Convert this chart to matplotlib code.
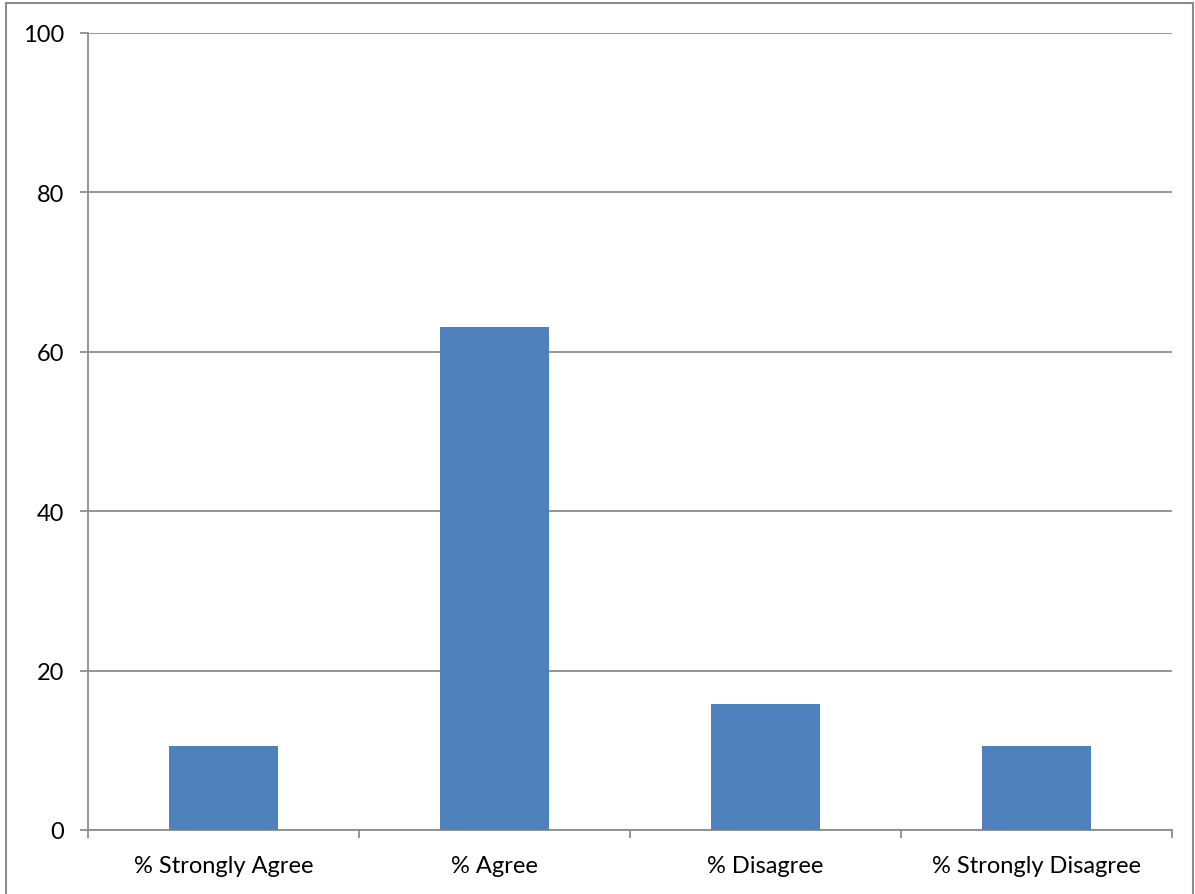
import matplotlib
matplotlib.use("Agg")
import matplotlib.pyplot as plt
from matplotlib.patches import Rectangle
import numpy as np

categories = ["% Strongly Agree", "% Agree", "% Disagree", "% Strongly Disagree"]
values = [10.53, 63.16, 15.79, 10.53]
yticks = [0, 20, 40, 60, 80, 100]

plt.rcParams['font.family'] = ['Lato', 'DejaVu Sans']

W, H = 1195, 895
fig = plt.figure(figsize=(W / 100, H / 100), dpi=100)
fig.patches.append(Rectangle((6 / W, -0.1), (1193 - 6) / W, 1.1 - 4 / H,
                             transform=fig.transFigure, fill=False,
                             edgecolor="#8c8c8c", linewidth=1.5))
ax = fig.add_axes([88 / W, (H - 831) / H, (1172 - 88) / W, (831 - 34) / H])

x = np.arange(len(categories))
ax.bar(x, values, width=0.4, color="#4F81BD", zorder=3)
ax.set_xlim(-0.5, len(categories) - 0.5)
ax.set_ylim(0, 100)
ax.set_yticks(yticks)
ax.set_yticklabels([str(v) for v in yticks], fontsize=17)
ax.yaxis.grid(True, color="#8c8c8c", linewidth=1.3, zorder=0)
ax.set_axisbelow(True)

ax.set_xticks(np.arange(len(categories) + 1) - 0.5)
ax.set_xticklabels([])
ax.set_xticks(x, minor=True)
ax.set_xticklabels(categories, minor=True, fontsize=17)
ax.tick_params(axis="x", which="minor", length=0, pad=18)
ax.tick_params(axis="x", which="major", length=6, width=1.3, color="#8c8c8c")
ax.tick_params(axis="y", length=6, width=1.3, color="#8c8c8c", pad=11)

for s in ["top", "right"]:
    ax.spines[s].set_visible(False)
for s in ["left", "bottom"]:
    ax.spines[s].set_color("#8c8c8c")
    ax.spines[s].set_linewidth(1.3)

fig.savefig("out.png", dpi=100)
